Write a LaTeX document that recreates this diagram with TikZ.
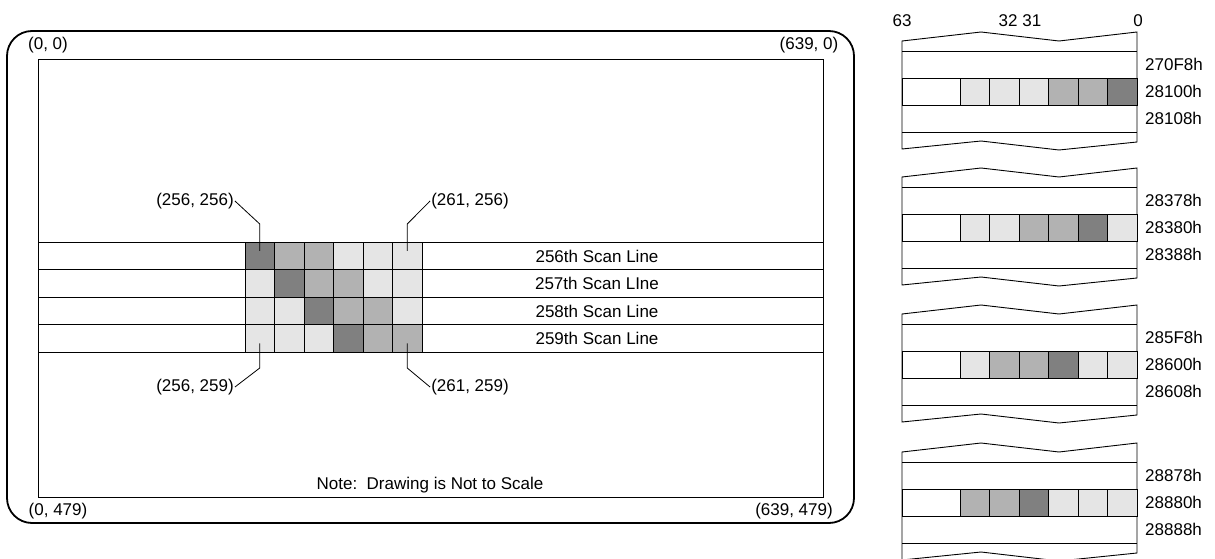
\documentclass[tikz,border=0pt]{standalone}
\usepackage{fontspec}
\setmainfont{Liberation Sans}
\usetikzlibrary{positioning}

\tikzset{
  cell/.style={draw=black, line width=0.9pt, minimum width=29.5pt, minimum height=27.5pt, inner sep=0pt, outer sep=0pt, anchor=north west},
  lbl/.style={inner sep=1pt},
  leader/.style={line width=0.8pt},
}

\begin{document}
\begin{tikzpicture}[x=1pt, y=-1pt, font=\fontsize{17}{20}\selectfont]

\useasboundingbox (0,0) rectangle (1215,559);

% LEFT PANEL: the screen
\draw[line width=1.8pt, rounded corners=25pt] (7,31) rectangle (854,523);
\draw[line width=0.9pt] (38,59) rectangle (823,497);

% Corner coordinates
\node[lbl] (tl) at (48,45) {(0, 0)};
\node[lbl] (tr) at (809,45) {(639, 0)};
\node[lbl] (bl) at (58,511) {(0, 479)};
\node[lbl] (br) at (794,511) {(639, 479)};
\node[lbl] (note) at (430,485) {Note:\ \ Drawing is Not to Scale};

% Scan lines
\foreach \r/\txt in {0/256th Scan Line, 1/257th Scan LIne, 2/258th Scan Line, 3/259th Scan Line} {
    \draw[line width=0.9pt] (38,242+27.5*\r) rectangle (823,269.5+27.5*\r);
    \node[lbl] (sl\r) at (597,256+27.5*\r) {\txt};
}

% Pixel block (6 x 4), shade by distance from the diagonal
\foreach \r in {0,...,3} {
    \foreach \c in {0,...,5} {
        \pgfmathtruncatemacro{\d}{\c-\r}
        \pgfmathtruncatemacro{\tone}{ifthenelse(\d==0, 50, ifthenelse(\d==1 || \d==2, 30, 10))}
        \node[cell, fill=black!\tone] (g\r-\c) at (245+29.5*\c, 242+27.5*\r) {};
    }
}

% Pixel coordinate callouts
\node[lbl] (p1) at (195,201) {(256, 256)};
\node[lbl] (p2) at (470,201) {(261, 256)};
\node[lbl] (p3) at (195,387) {(256, 259)};
\node[lbl] (p4) at (470,387) {(261, 259)};
\draw[leader] (p1.east) -- ([yshift=18pt]g0-0.north) -- ([yshift=5pt]g0-0.center);
\draw[leader] (p2.west) -- ([yshift=18pt]g0-5.north) -- ([yshift=5pt]g0-5.center);
\draw[leader] (p3.east) -- ([yshift=-16pt]g3-0.south) -- ([yshift=-5pt]g3-0.center);
\draw[leader] (p4.west) -- ([yshift=-16pt]g3-5.south) -- ([yshift=-5pt]g3-5.center);

% RIGHT PANEL: memory (64-bit words)
\node[lbl] (b63) at (902,21) {63};
\node[lbl] (b32) at (1020,21) {32 31};
\node[lbl] (b0) at (1138,21) {0};

\foreach \k/\b/\addrA/\addrB/\addrC in {0/51/270F8h/28100h/28108h, 1/187/28378h/28380h/28388h, 2/324/285F8h/28600h/28608h, 3/462/28878h/28880h/28888h} {
    % outline with broken ends
    \draw[line width=0.9pt] (902,\b-10) -- (981,\b-19) -- (1059,\b-10) -- (1137,\b-19)
        -- (1137,\b+91) -- (1059,\b+99) -- (981,\b+90) -- (902,\b+98) -- cycle;
    \foreach \dy in {0,27,54,81} {
        \draw[line width=0.9pt] (902,\b+\dy) -- (1137,\b+\dy);
    }
    % word holding the pixels of one scan line
    \node[cell, minimum width=58pt, minimum height=27pt] (m\k-w) at (902,\b+27) {};
    \foreach \j in {0,...,5} {
        \pgfmathtruncatemacro{\d}{5-\j-\k}
        \pgfmathtruncatemacro{\tone}{ifthenelse(\d==0, 50, ifthenelse(\d==1 || \d==2, 30, 10))}
        \node[cell, fill=black!\tone, minimum height=27pt] (m\k-\j) at (960+29.5*\j, \b+27) {};
    }
    % addresses
    \node[lbl, anchor=west] (a\k-0) at (1144,\b+13.5) {\addrA};
    \node[lbl, anchor=west] (a\k-1) at (1144,\b+40.5) {\addrB};
    \node[lbl, anchor=west] (a\k-2) at (1144,\b+67.5) {\addrC};
}

\end{tikzpicture}
\end{document}
